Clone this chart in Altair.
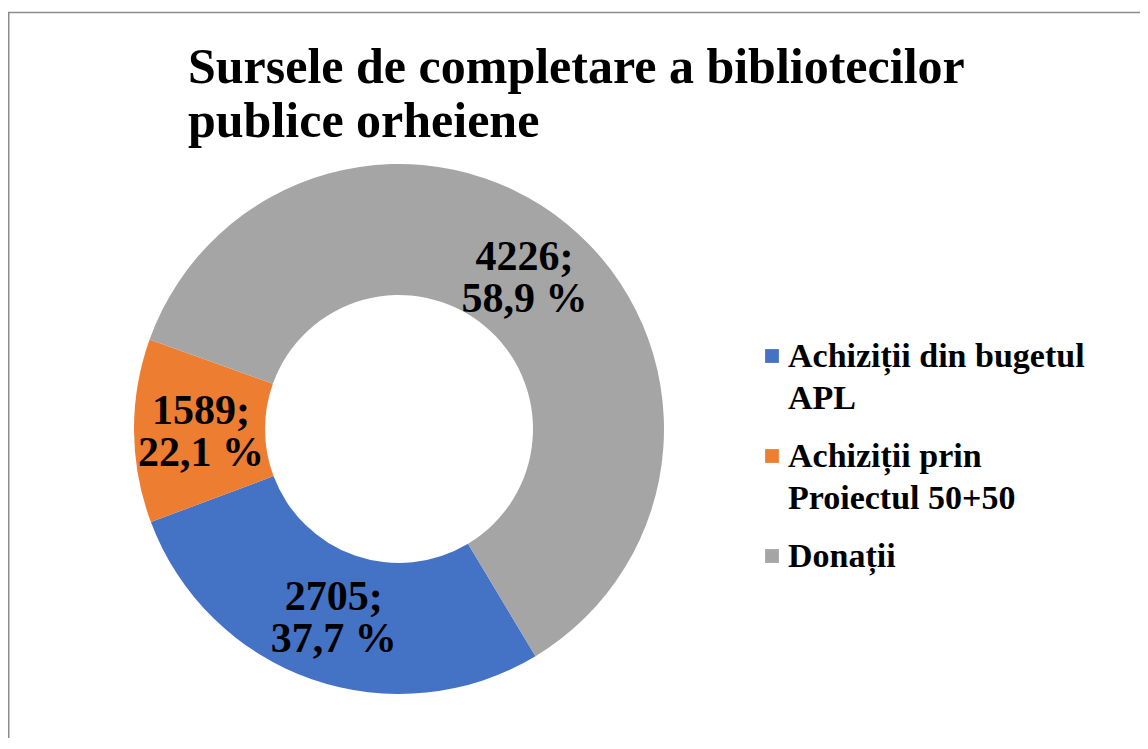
import math
import altair as alt
import pandas as pd

# ---- data ----
categories = ["Achiziții din bugetul APL", "Achiziții prin Proiectul 50+50", "Donații"]
legend_text = ["Achiziții din bugetul\nAPL", "Achiziții prin\nProiectul 50+50", "Donații"]
values = [2705, 1589, 4226]
percent_labels = ["37,7 %", "22,1 %", "58,9 %"]
# share of the ring each slice occupies in the picture (percent)
slice_share = [27.9, 11.2, 60.9]
colors = ["#4472C4", "#ED7D31", "#A5A5A5"]
title_lines = ["Sursele de completare a bibliotecilor", "publice orheiene"]

FONT = "Liberation Serif"
W, H = 1132, 730
CX, CY = 391, 421
START = math.radians(149)
LABEL_LH = 42

df = pd.DataFrame({
    "cat": categories,
    "order": list(range(len(categories))),
    "share": slice_share,
    "label": [f"{v};\n{p}" for v, p in zip(values, percent_labels)],
    "legend": legend_text,
})

theta = alt.Theta("share:Q", stack=True,
                  scale=alt.Scale(range=[START, START + 2 * math.pi]))
color = alt.Color("cat:N", scale=alt.Scale(domain=categories, range=colors), legend=None)

base = alt.Chart(df)

arcs = base.mark_arc(outerRadius=265, innerRadius=134).encode(
    theta=theta, order=alt.Order("order:Q"), color=color,
    x=alt.value(CX), y=alt.value(CY),
)

labels = base.mark_text(
    radius=198, font=FONT, fontSize=42, fontWeight="bold", color="black",
    lineBreak="\n", lineHeight=LABEL_LH, baseline="middle", align="center",
    dy=-LABEL_LH / 2 + 2,
).encode(
    theta=theta, order=alt.Order("order:Q"), text="label:N",
    x=alt.value(CX), y=alt.value(CY),
)

legend_y = alt.Y("cat:N", sort=categories, axis=None,
                 scale=alt.Scale(type="point", domain=categories, range=[348, 548], padding=0))

squares = base.mark_square(size=190, opacity=1, filled=True).encode(
    x=alt.value(764), y=legend_y, color=color,
)

legend_labels = base.mark_text(
    font=FONT, fontSize=34, fontWeight="bold", color="black", align="left",
    baseline="top", dy=-16, lineBreak="\n", lineHeight=42,
).encode(x=alt.value(780), y=legend_y, text="legend:N")

title = alt.Chart(pd.DataFrame({"t": ["\n".join(title_lines)]})).mark_text(
    font=FONT, fontSize=50, fontWeight="bold", color="black", align="left",
    baseline="alphabetic", lineBreak="\n", lineHeight=54,
).encode(x=alt.value(180), y=alt.value(75), text="t:N")

one = pd.DataFrame({"a": [0]})
border_top = alt.Chart(one).mark_rule(color="#8C8C8C", strokeWidth=1.5).encode(
    x=alt.value(0), x2=alt.value(W), y=alt.value(4.5))
border_left = alt.Chart(one).mark_rule(color="#8C8C8C", strokeWidth=1.5).encode(
    x=alt.value(0.75), y=alt.value(4), y2=alt.value(H))

chart = alt.layer(
    border_top, border_left, title, arcs, labels, squares, legend_labels
).properties(
    width=W, height=H, autosize="none", padding=0,
).configure_view(stroke=None)

chart.save("out.html", embed_options={"renderer": "svg", "actions": False})
